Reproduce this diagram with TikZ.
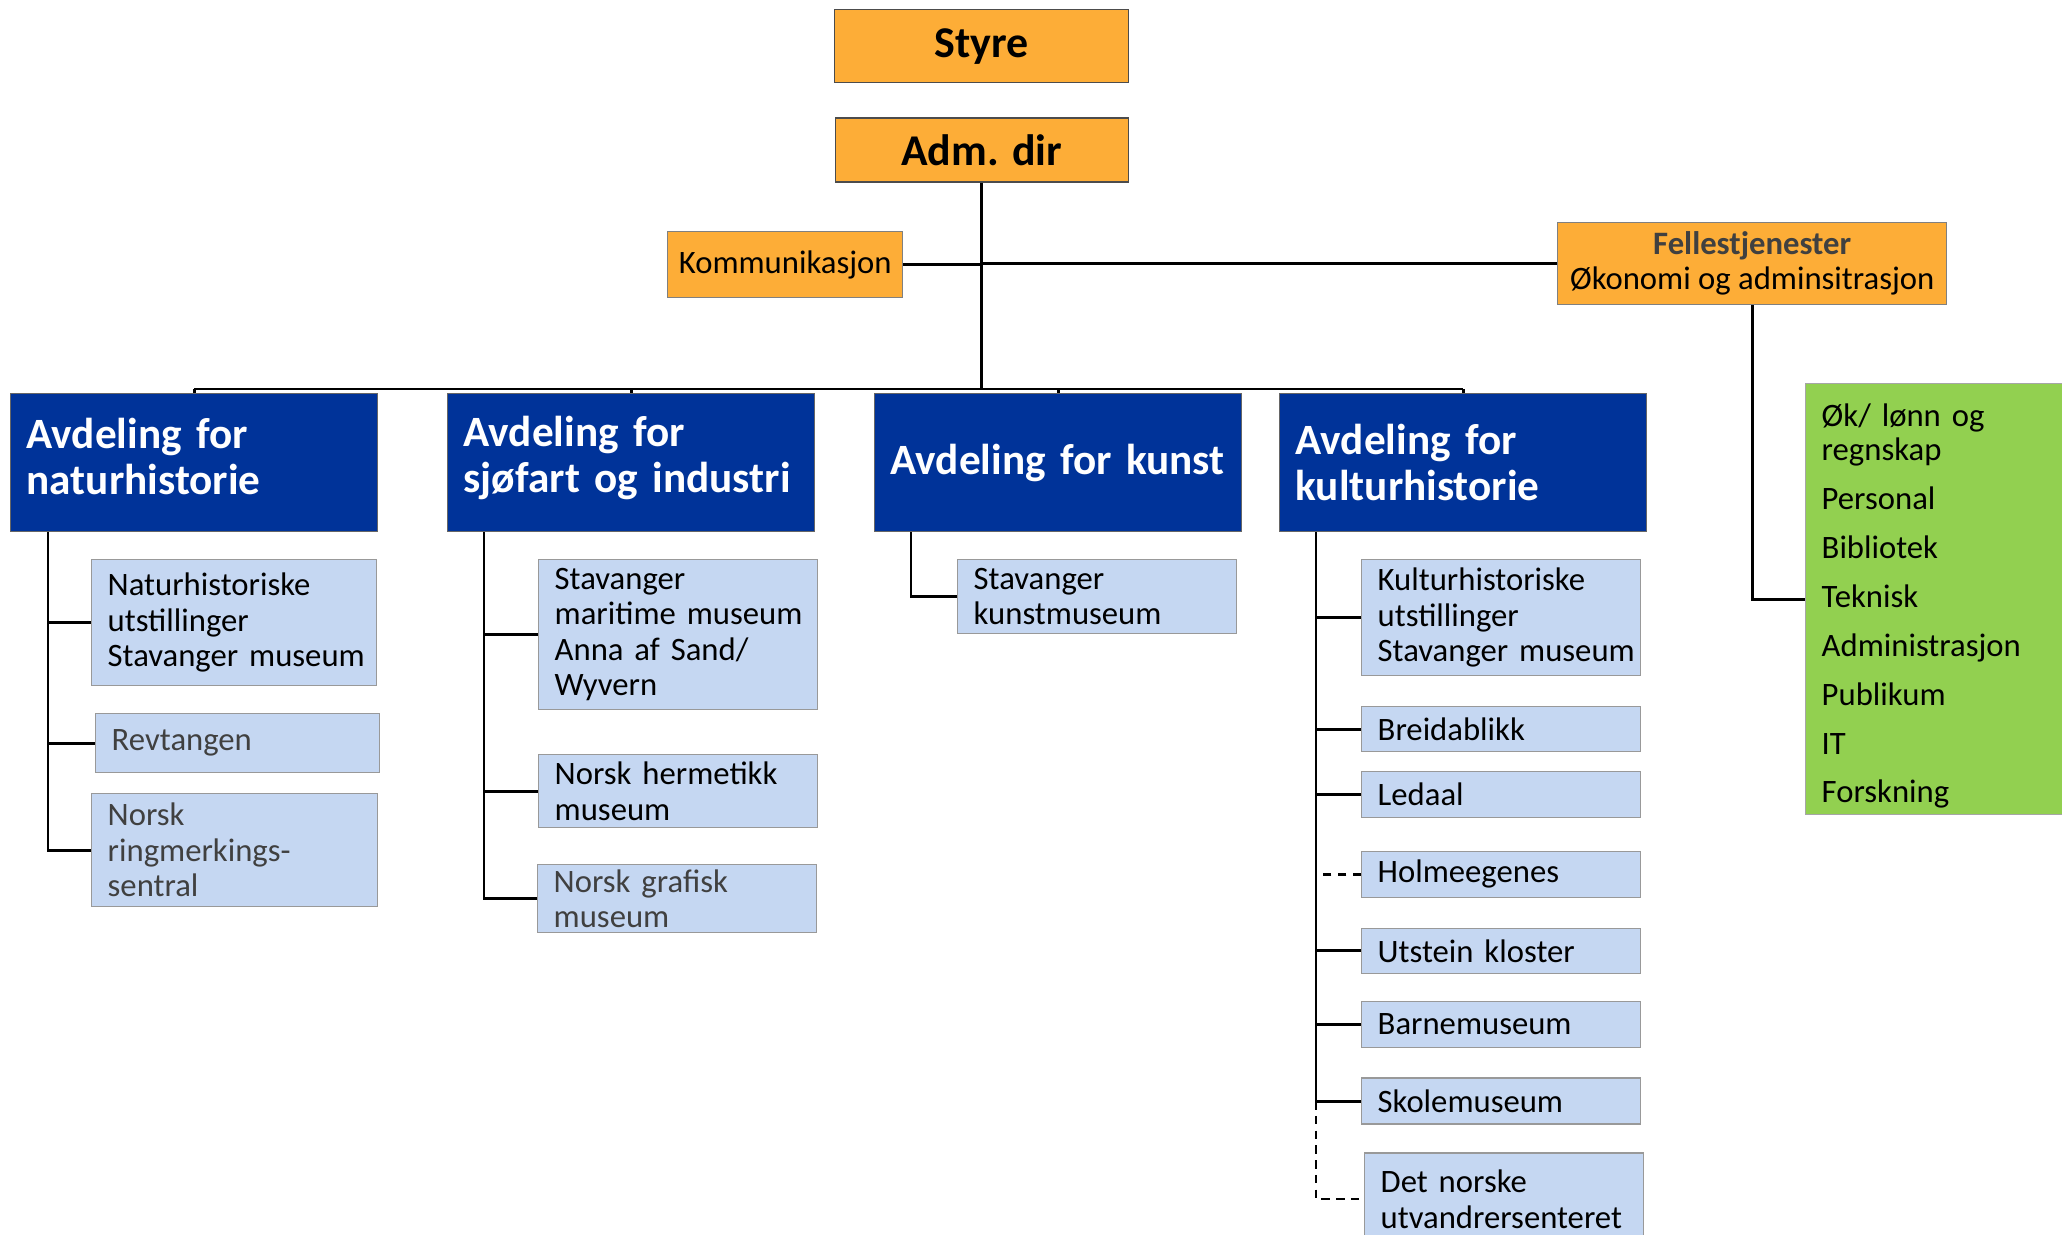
\documentclass[tikz,border=0pt]{standalone}
\usepackage{fontspec}
\setmainfont{Carlito}
\usetikzlibrary{positioning}
\hyphenpenalty=10000
\exhyphenpenalty=10000

\definecolor{boardorange}{HTML}{FDAD37}
\definecolor{deptblue}{HTML}{003399}
\definecolor{unitblue}{HTML}{C5D7F2}
\definecolor{staffgreen}{HTML}{92D050}

\tikzset{
  topbox/.style={draw=black!70, fill=boardorange, inner sep=0pt,
    font=\bfseries\fontsize{12.5}{14}\selectfont},
  staffbox/.style={draw=black!50, fill=boardorange, inner sep=0pt, align=center,
    font=\fontsize{9.3}{10}\selectfont},
  dept/.style={draw=black!60, fill=deptblue, text=white, align=left,
    inner xsep=1.6mm, text width=33.5mm, minimum height=13.8mm,
    font=\bfseries\fontsize{12.3}{13.2}\selectfont},
  unit/.style={draw=black!40, fill=unitblue, align=left, inner xsep=1.6mm,
    inner ysep=0pt, text width=#1, font=\fontsize{9.3}{10.1}\selectfont},
  unit/.default=24.7mm,
  support/.style={draw=black!35, fill=staffgreen, align=left, inner xsep=1.6mm,
    inner ysep=0pt, text width=23.8mm, minimum height=43.1mm,
    font=\fontsize{9.3}{9.7}\selectfont},
  conn/.style={line width=0.8pt},
  dashconn/.style={conn, dash pattern=on 2.4pt off 1.8pt}
}

\begin{document}
\begin{tikzpicture}[x=0.1mm, y=-0.1mm]
  \useasboundingbox (0,0) rectangle (2062,1235);

  % top of the chart
  \node[topbox, anchor=north west, minimum width=29.4mm, minimum height=7.3mm] (styre) at (834,9) {Styre};
  \node[topbox, below=3.4mm of styre, minimum width=29.3mm, minimum height=6.4mm] (adm) {Adm. dir};
  \node[staffbox, anchor=north west, minimum width=23.5mm, minimum height=6.6mm] (komm) at (667,231) {Kommunikasjon};
  \node[staffbox, anchor=north west, minimum width=38.9mm, minimum height=8.2mm] (felles) at (1557,222)
    {{\bfseries\color{black!75}Fellestjenester}\\Økonomi og adminsitrasjon};
  \node[support, anchor=north west] (stab) at (1805,383)
    {\mbox{}\\[0.8pt]Øk/ lønn og\\regnskap\\[4.2pt]Personal\\[4.2pt]Bibliotek\\[4.2pt]Teknisk\\[4.2pt]Administrasjon\\[4.2pt]Publikum\\[4.2pt]IT\\[4.2pt]Forskning};

  % avdelinger
  \node[dept, anchor=north west] (d1) at (10,393) {Avdeling for\\naturhistorie\\[-9.5pt]\mbox{}};
  \node[dept, anchor=north west] (d2) at (447,393) {Avdeling for\\sjøfart~og~industri\\[-8.5pt]\mbox{}};
  \node[dept, anchor=north west] (d3) at (874,393) {Avdeling~for~kunst};
  \node[dept, anchor=north west] (d4) at (1279,393) {Avdeling for\\kulturhistorie};

  % naturhistorie
  \node[unit=25.3mm, anchor=north west, minimum height=12.6mm] (nat) at (91,559) {Naturhistoriske\\utstillinger\\Stavanger~museum};
  \node[unit=25.2mm, anchor=north west, minimum height=5.9mm, text=black!75] (revt) at (95,713) {Revtangen};
  \node[unit=25.4mm, anchor=north west, minimum height=11.3mm, text=black!75] (ring) at (91,793) {Norsk\\ringmerkings-\\sentral};

  % sjøfart og industri
  \node[unit, anchor=north west, minimum height=15mm] (mar) at (538,559) {Stavanger\\maritime~museum\\Anna af Sand/\\Wyvern};
  \node[unit, anchor=north west, minimum height=7.3mm] (herm) at (538,754) {Norsk~hermetikk\\museum};
  \node[unit, anchor=north west, minimum height=6.8mm, text=black!75] (graf) at (537,864) {Norsk grafisk\\museum};

  % kunst
  \node[unit, anchor=north west, minimum height=7.4mm] (kunstm) at (957,559) {Stavanger\\kunstmuseum};

  % kulturhistorie
  \node[unit, anchor=north west, minimum height=11.6mm] (kult) at (1361,559) {Kulturhistoriske\\utstillinger\\Stavanger~museum};
  \node[unit, below=2.95mm of kult, minimum height=4.5mm] (breid) {Breidablikk};
  \node[unit, below=1.85mm of breid, minimum height=4.6mm] (ledaal) {Ledaal};
  \node[unit, below=3.25mm of ledaal, minimum height=4.6mm] (holm) {Holmeegenes};
  \node[unit, below=2.95mm of holm, minimum height=4.5mm] (utst) {Utstein~kloster};
  \node[unit, below=2.65mm of utst, minimum height=4.6mm] (barn) {Barnemuseum};
  \node[unit, below=2.95mm of barn, minimum height=4.6mm] (skole) {Skolemuseum};
  \node[unit, below=2.75mm of skole, xshift=0.3mm, minimum height=9.2mm] (utv) {Det norske\\utvandrersenteret};

  % lines
  \draw[conn] (adm.south) -- ([yshift=0.4mm]adm.south |- d1.north);
  \draw[conn] (komm.east) -- (komm.east -| adm.south);
  \draw[conn] (felles.west) -- (felles.west -| adm.south);
  \draw[conn] (felles.south) |- (stab.west);
  \draw[conn] ([yshift=0.4mm]d1.north) -- ([yshift=0.4mm]d4.north);
  \foreach \d in {d1,d2,d3,d4}
    \draw[conn] (\d.north) -- ++(0,-4);

  \draw[conn] ([xshift=3.8mm]d1.south west) coordinate (t1) |- (nat.west) (t1) |- (revt.west) (t1) |- (ring.west);
  \draw[conn] ([xshift=3.7mm]d2.south west) coordinate (t2) |- (mar.west) (t2) |- (herm.west) (t2) |- (graf.west);
  \draw[conn] ([xshift=3.7mm]d3.south west) |- (kunstm.west);
  \draw[conn] ([xshift=3.7mm]d4.south west) coordinate (t4) |- (kult.west) (t4) |- (breid.west) (t4) |- (ledaal.west)
    (t4) |- (utst.west) (t4) |- (barn.west) (t4) |- (skole.west);
  \draw[dashconn] (holm.west) -- (holm.west -| t4);
  \draw[dashconn] (skole.west -| t4) |- (utv.west);
\end{tikzpicture}
\end{document}
